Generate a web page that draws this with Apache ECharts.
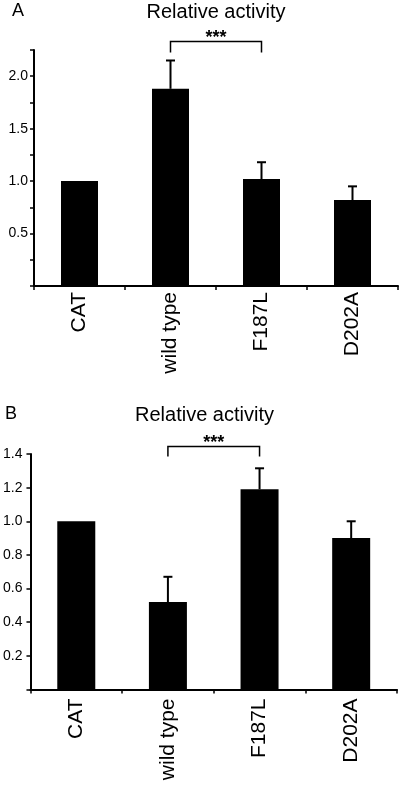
<!DOCTYPE html>
<html>
<head>
<meta charset="utf-8">
<script src="https://cdn.jsdelivr.net/npm/echarts@6/dist/echarts.min.js"></script>
<style>
html,body{margin:0;padding:0;background:#fff;}
#chart{width:400px;height:785px;}
</style>
</head>
<body>
<div id="chart"></div>
<script>
// ---- data ----
var categories = ['CAT', 'wild type', 'F187L', 'D202A'];
var valuesA = [1.0, 1.88, 1.02, 0.82];
var errorsA = [0, 0.27, 0.16, 0.13];
var valuesB = [1.0, 0.52, 1.19, 0.90];
var errorsB = [0, 0.15, 0.125, 0.10];
var titleA = 'Relative activity';
var titleB = 'Relative activity';
var sigA = ['wild type', 'F187L'];
var sigB = ['wild type', 'F187L'];
var sigLevelA = [2.33, 2.225];
var sigLevelB = [1.445, 1.385];
var sigText = '***';

var FONT = 'Liberation Sans, Arial, Helvetica, sans-serif';

function errData(vals, errs) {
  return vals.map(function (v, i) { return [i, v, errs[i]]; });
}
function sigData(pair, level) {
  return [[categories.indexOf(pair[0]), categories.indexOf(pair[1]), level[0], level[1]]];
}

function renderErr(params, api) {
  var i = api.value(0), v = api.value(1), e = api.value(2);
  if (!(e > 0)) return null;
  var p0 = api.coord([i, v]);
  var p1 = api.coord([i, v + e]);
  var style = { stroke: '#000', lineWidth: 2 };
  return {
    type: 'group',
    children: [
      { type: 'line', shape: { x1: p0[0], y1: p0[1], x2: p1[0], y2: p1[1] }, style: style },
      { type: 'line', shape: { x1: p1[0] - 4.5, y1: p1[1], x2: p1[0] + 4.5, y2: p1[1] }, style: style }
    ]
  };
}

function renderSig(params, api) {
  var a = api.value(0), b = api.value(1), top = api.value(2), foot = api.value(3);
  var pa = api.coord([a, top]), pb = api.coord([b, top]);
  var fa = api.coord([a, foot]), fb = api.coord([b, foot]);
  return {
    type: 'group',
    children: [
      { type: 'polyline', shape: { points: [[fa[0], fa[1]], [pa[0], pa[1]], [pb[0], pb[1]], [fb[0], fb[1]]] },
        style: { stroke: '#000', lineWidth: 1.5, fill: null } },
      { type: 'text', x: (pa[0] + pb[0]) / 2, y: pa[1] - 3.5,
        style: { text: sigText, fill: '#000', font: 'bold 18px ' + FONT, textAlign: 'center', textVerticalAlign: 'middle' } }
    ]
  };
}

function xAx(gi, margin) {
  return {
    type: 'category', gridIndex: gi, data: categories, boundaryGap: true,
    axisLine: { lineStyle: { color: '#000', width: 2 } },
    axisTick: { show: true, length: 4, lineStyle: { color: '#000', width: 1.5 } },
    axisLabel: { rotate: 90, fontSize: 21, color: '#000', fontFamily: FONT, margin: margin, interval: 0 },
    splitLine: { show: false }
  };
}

var tStyle = function (fs) { return { fontSize: fs, fontWeight: 'normal', color: '#000', fontFamily: FONT }; };

var chart = echarts.init(document.getElementById('chart'), null, { renderer: 'canvas' });
chart.setOption({
  backgroundColor: '#fff',
  animation: false,
  title: [
    { text: 'A', left: 12, top: 2.5, padding: 0, textStyle: tStyle(18) },
    { text: titleA, left: 146.5, top: 2.3, padding: 0, textStyle: tStyle(20) },
    { text: 'B', left: 5, top: 405.5, padding: 0, textStyle: tStyle(18) },
    { text: titleB, left: 135, top: 405.3, padding: 0, textStyle: tStyle(20) }
  ],
  grid: [
    { left: 34, right: 2, top: 50, height: 236 },
    { left: 29, right: 3, top: 454, height: 235.5 }
  ],
  xAxis: [xAx(0, 6), xAx(1, 9)],
  yAxis: [
    {
      type: 'value', gridIndex: 0, min: 0, max: 2.25, interval: 0.25,
      axisLine: { show: true, lineStyle: { color: '#000', width: 2 } },
      axisTick: { show: true, length: 4, lineStyle: { color: '#000', width: 1.5 } },
      axisLabel: { fontSize: 14, color: '#000', fontFamily: FONT, margin: 6,
        formatter: function (v) { return (v > 0 && Math.abs(v * 2 - Math.round(v * 2)) < 1e-6) ? v.toFixed(1) : ''; } },
      splitLine: { show: false }
    },
    {
      type: 'value', gridIndex: 1, min: 0, max: 1.4, interval: 0.2,
      axisLine: { show: true, lineStyle: { color: '#000', width: 2 } },
      axisTick: { show: true, length: 4, lineStyle: { color: '#000', width: 1.5 } },
      axisLabel: { fontSize: 14, color: '#000', fontFamily: FONT, margin: 8,
        formatter: function (v) { return v > 0 ? v.toFixed(1) : ''; } },
      splitLine: { show: false }
    }
  ],
  series: [
    { type: 'bar', xAxisIndex: 0, yAxisIndex: 0, data: valuesA, barWidth: 37, itemStyle: { color: '#000' }, z: 2 },
    { type: 'custom', xAxisIndex: 0, yAxisIndex: 0, data: errData(valuesA, errorsA), renderItem: renderErr, encode: { x: 0, y: 1 }, z: 3 },
    { type: 'custom', xAxisIndex: 0, yAxisIndex: 0, data: sigData(sigA, sigLevelA), renderItem: renderSig, clip: false, z: 4 },
    { type: 'bar', xAxisIndex: 1, yAxisIndex: 1, data: valuesB, barWidth: 38, itemStyle: { color: '#000' }, z: 2 },
    { type: 'custom', xAxisIndex: 1, yAxisIndex: 1, data: errData(valuesB, errorsB), renderItem: renderErr, encode: { x: 0, y: 1 }, z: 3 },
    { type: 'custom', xAxisIndex: 1, yAxisIndex: 1, data: sigData(sigB, sigLevelB), renderItem: renderSig, clip: false, z: 4 }
  ]
});
</script>
</body>
</html>
